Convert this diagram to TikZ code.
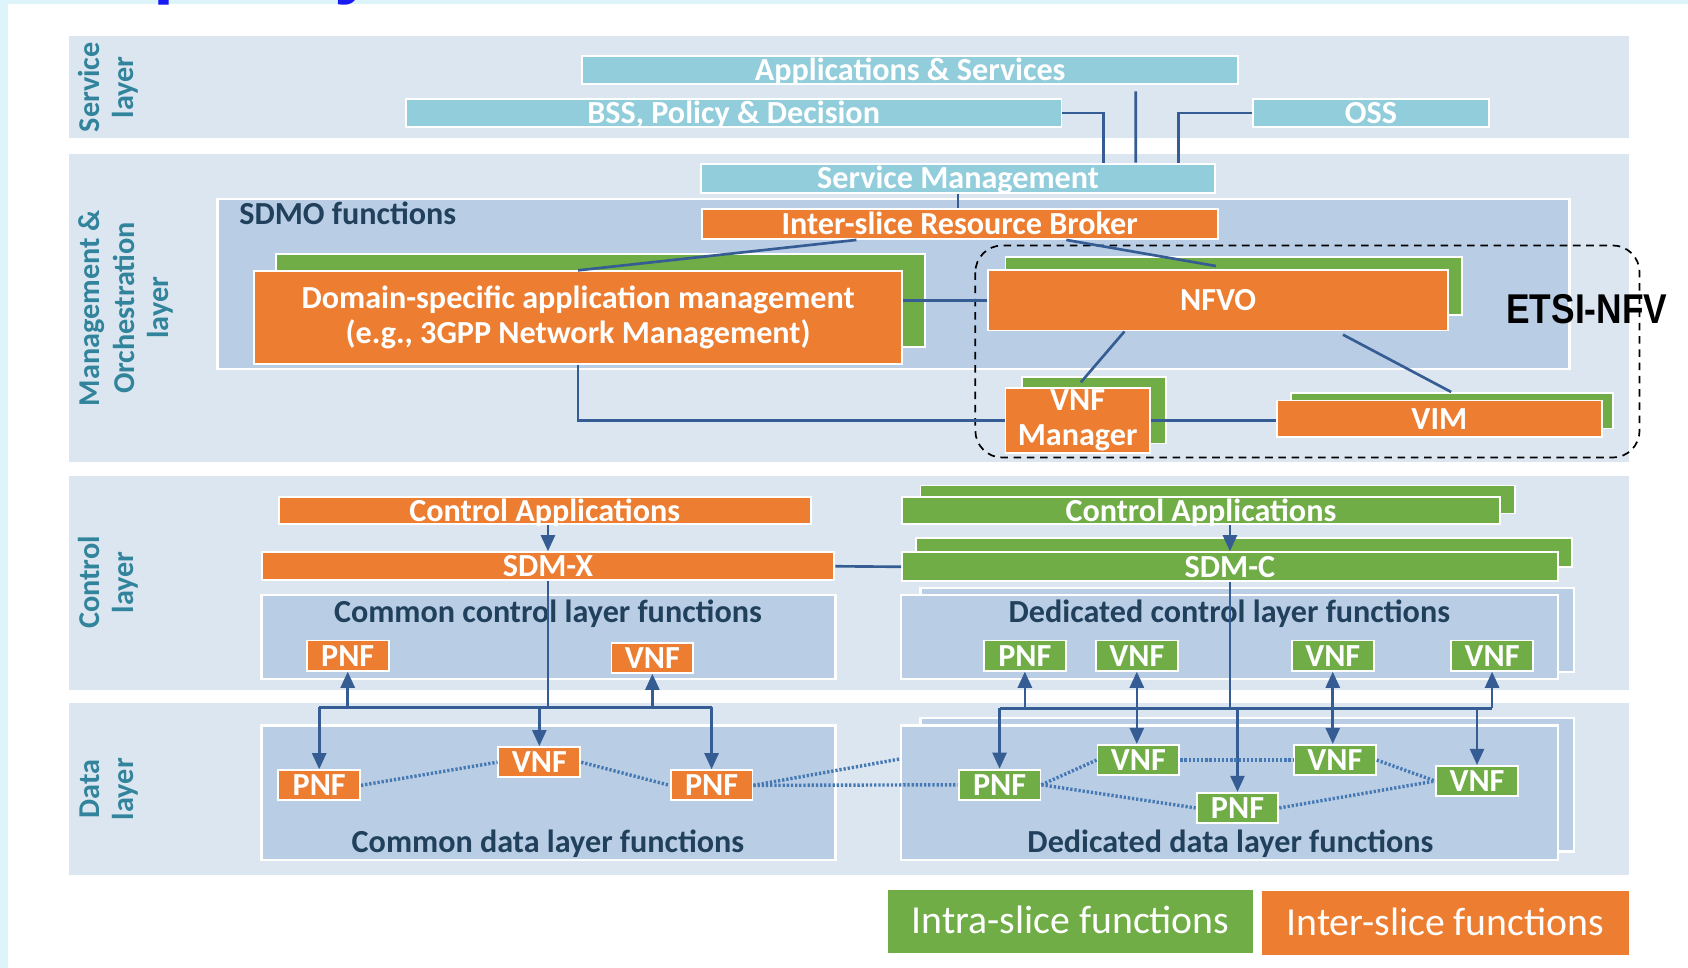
\documentclass[tikz,border=0pt]{standalone}
\usepackage{fontspec}
\setmainfont{Carlito}
\newfontfamily\etsifont{Liberation Sans}
\usetikzlibrary{arrows.meta,calc}
\definecolor{frame}{HTML}{DDF4FA}
\definecolor{band}{HTML}{DCE6F1}
\definecolor{inner}{HTML}{B9CDE5}
\definecolor{sky}{HTML}{92CDDC}
\definecolor{orng}{HTML}{ED7D31}
\definecolor{grn}{HTML}{70AD47}
\definecolor{wire}{HTML}{365D93}
\definecolor{dots}{HTML}{4679B4}
\definecolor{ink}{HTML}{21405B}
\definecolor{laycol}{HTML}{31849B}
\definecolor{titleblue}{HTML}{1A1AF5}
\tikzset{wh/.style 2 args={minimum width=#1*0.02cm, minimum height=#2*0.02cm}}
\begin{document}
\begin{tikzpicture}[x=0.02cm,y=-0.02cm]
\tikzstyle{every node}=[inner sep=0pt, font=\bfseries\fontsize{17}{18.2}\selectfont]
\tikzstyle{box}=[draw=white, line width=1pt, text=white]
\tikzstyle{one}=[box, text height=11pt, text depth=0pt]
\tikzstyle{sbox}=[one, fill=sky]
\tikzstyle{obox}=[one, fill=orng]
\tikzstyle{gbox}=[one, fill=grn]
\tikzstyle{small}=[wh={76}{28}]
\tikzstyle{backing}=[fill=grn, draw=white, line width=1pt]
\tikzstyle{area}=[fill=inner, draw=white, line width=1.2pt]
\tikzstyle{lname}=[rotate=90, text=laycol, align=center, font=\bfseries\fontsize{16}{18}\selectfont]
\tikzstyle{aname}=[text=ink, anchor=base]
\tikzstyle{legend}=[text=white, text height=13pt, text depth=0pt, font=\fontsize{21}{24}\selectfont]
\tikzstyle{link}=[draw=wire, line width=1.4pt]
\tikzstyle{arr}=[link, -{Triangle[width=0.26cm,length=0.3cm]}]
\tikzstyle{arr2}=[link, {Triangle[width=0.26cm,length=0.3cm]}-{Triangle[width=0.26cm,length=0.3cm]}]
\tikzstyle{dotl}=[draw=dots, line width=1.8pt, dash pattern=on 1.2pt off 1pt]
\useasboundingbox (0,0) rectangle (1568,899);
\fill[frame] (0,0) rectangle (1568,899);
\fill[white] (7.5,4) rectangle (1568,899);
\node[anchor=base west, text=titleblue, font=\etsifont\bfseries\fontsize{40}{40}\selectfont] (tp) at (142,-10) {p};
\node[anchor=base west, text=titleblue, font=\etsifont\bfseries\fontsize{40}{40}\selectfont] (ty) at (310,-10) {y};
% layers
\fill[band] (64,33) rectangle (1513,128);
\fill[band] (64,143) rectangle (1513,429);
\fill[band] (64,442) rectangle (1513,641);
\fill[band] (64,653) rectangle (1513,813);
\node[lname] (svl) at (101,81) {Service\\layer};
\node[lname] (mol) at (117,286) {Management \&\\Orchestration\\layer};
\node[lname] (ctl) at (101,541) {Control\\layer};
\node[lname] (dtl) at (101,733) {Data\\layer};
% service layer
\node[sbox, wh={609}{26}] (apps) at (845.5,65) {Applications \& Services};
\node[sbox, wh={609}{26}] (bss) at (681.5,105) {BSS, Policy \& Decision};
\node[sbox, wh={219}{26}] (oss) at (1273.5,105) {OSS};
% management and orchestration
\node[sbox, wh={478}{27}] (svcm) at (890,165.5) {Service Management};
\node[area, wh={1256}{158}] (sdmo) at (830,264) {};
\node[aname, anchor=base west] (sdmol) at (222,209) {SDMO functions};
\node[obox, wh={479}{28}] (broker) at (891.5,208) {Inter-slice Resource Broker};
\filldraw[backing] (256,236) rectangle (859,322);
\node[box, fill=orng, align=center, wh={602}{86}] (dsam) at (537,295) {Domain-specific application management\\(e.g., 3GPP Network Management)};
\filldraw[backing] (934,239) rectangle (1358,293);
\node[obox, wh={427}{56}] (nfvo) at (1131.5,279) {NFVO};
\filldraw[backing] (949,350) rectangle (1083,412);
\node[box, fill=orng, align=center, wh={134}{61}] (vnfm) at (1001,390.5) {VNF\\Manager};
\filldraw[backing] (1199,365) rectangle (1498,398);
\node[obox, wh={302}{34}] (vim) at (1337,389) {VIM};
\draw[dash pattern=on 4pt off 3pt, line width=0.9pt, rounded corners=0.5cm] (906,228) rectangle (1523,425);
\node[text=black, font=\etsifont\bfseries\fontsize{22}{22}\selectfont] (etsi) at (1474,287) {\scalebox{0.85}[1]{ETSI-NFV}};
% control layer
\node[obox, wh={494}{25}] (capl) at (506,474.5) {Control Applications};
\node[obox, wh={532}{26}] (sdmx) at (509,526) {SDM-X};
\node[area, wh={533}{78}] (ccl) at (509.5,592) {};
\node[aname] (ccll) at (509,578) {Common control layer functions};
\node[obox, small] (cpnf) at (323,609) {PNF};
\node[obox, small] (cvnf) at (606,611) {VNF};
\filldraw[backing] (855,451) rectangle (1407,477);
\node[gbox, wh={555}{25}] (capr) at (1115.5,474.5) {Control Applications};
\filldraw[backing] (851,500) rectangle (1460,527);
\node[gbox, wh={609}{27}] (sdmc) at (1142.5,526.5) {SDM-C};
\filldraw[area] (855,546) rectangle (1462,624);
\node[area, wh={610}{78}] (dcl) at (1142,592) {};
\node[aname] (dcll) at (1142,578) {Dedicated control layer functions};
\node[gbox, small] (gcpnf) at (952,609) {PNF};
\node[gbox, small] (gcvnf1) at (1056,609) {VNF};
\node[gbox, small] (gcvnf2) at (1238,609) {VNF};
\node[gbox, small] (gcvnf3) at (1386,609) {VNF};
% data layer
\node[area, wh={533}{125}] (cdl) at (509.5,736.5) {};
\node[aname] (cdll) at (509,792) {Common data layer functions};
\node[obox, small] (dpnf1) at (296.5,729.5) {PNF};
\node[obox, small] (dvnf) at (501,708) {VNF};
\node[obox, small] (dpnf2) at (661,729.5) {PNF};
\filldraw[area] (855,667) rectangle (1462,791);
\node[area, wh={610}{125}] (ddl) at (1142,736.5) {};
\node[aname] (ddll) at (1143,792) {Dedicated data layer functions};
\node[gbox, small] (gpnf1) at (928.5,729) {PNF};
\node[gbox, small] (gvnf1) at (1057.5,706) {VNF};
\node[gbox, small] (gpnf2) at (1149.5,750.5) {PNF};
\node[gbox, small] (gvnf2) at (1240,706) {VNF};
\node[gbox, small] (gvnf3) at (1372,725.5) {VNF};
% legend
\node[legend, fill=grn, wh={339}{58}] (intra) at (994.5,856) {Intra-slice functions};
\node[legend, fill=orng, wh={341}{59}] (inter) at (1342.5,857.5) {Inter-slice functions};
% connectors
\draw[link] (bss.east) -| ($(svcm.north)+(135,0)$);
\draw[link] ($(apps.south)+(209.5,6)$) -- ($(svcm.north)+(165,0)$);
\draw[link] (oss.west) -| ($(svcm.north)+(205,0)$);
\draw[link] (svcm.south) -- (svcm.south |- broker.north);
\draw[link] ($(broker.south)+(-96,0)$) -- (dsam.north);
\draw[link] ($(broker.south)+(99,0)$) -- ($(nfvo.north)+(-2,-3)$);
\draw[link] (nfvo.west) -- (nfvo.west -| dsam.east);
\draw[link] (dsam.south) |- (vnfm.west);
\draw[link] ($(nfvo.south)+(-87,0)$) -- ($(vnfm.north)+(3,-4)$);
\draw[link] ($(nfvo.south)+(116,3)$) -- ($(vim.north)+(11,-7)$);
\draw[link] (vnfm.east) -- (vnfm.east -| vim.west);
\draw[arr] (capl.south -| sdmx.north) -- (sdmx.north);
\draw[link] (sdmx.east) -- (sdmc.west);
\draw[arr] (capr.south -| sdmc.north) -- (sdmc.north);
\coordinate (lbus) at (509,657);
\draw[link] (sdmx.south) -- (lbus);
\draw[link] (dpnf1.north |- lbus) -- (dpnf2.north |- lbus);
\draw[arr] (cpnf.south |- lbus) -- (cpnf.south);
\draw[arr] (cvnf.south |- lbus) -- (cvnf.south);
\draw[arr] (dpnf1.north |- lbus) -- (dpnf1.north);
\draw[arr] (dvnf.north |- lbus) -- (dvnf.north);
\draw[arr] (dpnf2.north |- lbus) -- (dpnf2.north);
\coordinate (rbus) at (1142.5,658);
\draw[link] (sdmc.south) -- (rbus);
\draw[link] (gpnf1.north |- rbus) -- (gcvnf3.south |- rbus);
\draw[arr] (gcpnf.south |- rbus) -- (gcpnf.south);
\draw[arr] (gcvnf3.south |- rbus) -- (gcvnf3.south);
\draw[arr] (gpnf1.north |- rbus) -- (gpnf1.north);
\draw[arr] (gpnf2.north |- rbus) -- (gpnf2.north);
\draw[arr] (gvnf3.north |- rbus) -- (gvnf3.north);
\draw[arr2] (gcvnf1.south) -- (gcvnf1.south |- gvnf1.north);
\draw[arr2] (gcvnf2.south) -- (gcvnf2.south |- gvnf2.north);
\coordinate (ddin) at (836,705);
\draw[dotl] (dpnf1.east) -- (dvnf.west);
\draw[dotl] (dvnf.east) -- (dpnf2.west);
\draw[dotl] (dpnf2.east) -- (gpnf1.west);
\draw[dotl] (dpnf2.east) -- (ddin);
\draw[dotl] (gpnf1.east) -- (gvnf1.west);
\draw[dotl] (gpnf1.east) -- (gpnf2.west);
\draw[dotl] (gvnf1.east) -- (gvnf2.west);
\draw[dotl] (gvnf2.east) -- (gvnf3.west);
\draw[dotl] (gpnf2.east) -- (gvnf3.west);
\end{tikzpicture}
\end{document}
